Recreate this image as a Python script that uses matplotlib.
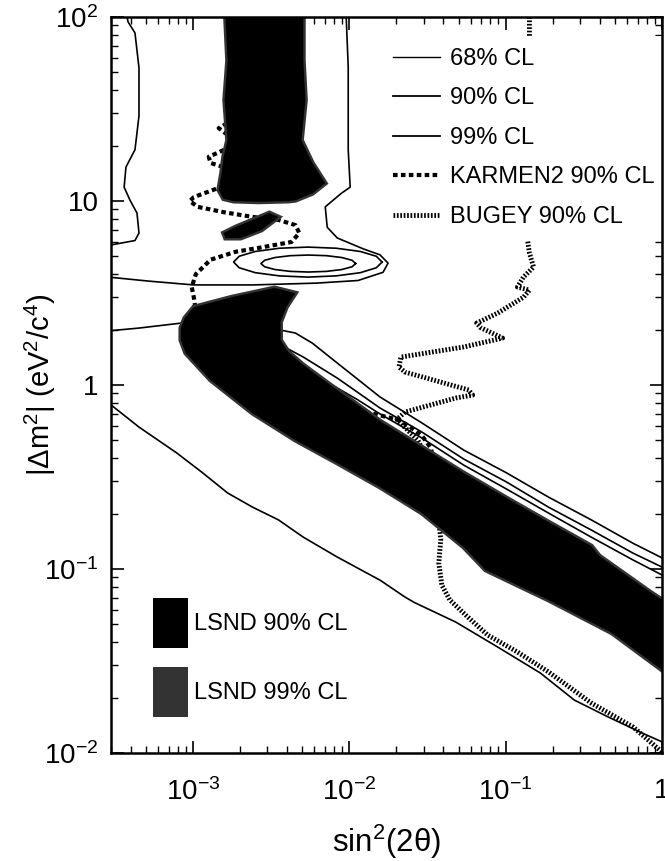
import numpy as np
import matplotlib.pyplot as plt
from matplotlib.lines import Line2D
from matplotlib.patches import Patch
from matplotlib.ticker import LogLocator, NullFormatter

plt.rcParams['font.family'] = ['Liberation Sans', 'DejaVu Sans']
plt.rcParams['mathtext.fontset'] = 'custom'
plt.rcParams['mathtext.rm'] = 'Liberation Sans'
plt.rcParams['mathtext.it'] = 'Liberation Sans:italic'

# ---- LSND allowed regions: (sin^2 2theta, |dm^2|) ----
col_x = [1.62e-3, 1.67e-3, 1.60e-3, 1.67e-3, 1.575e-3, 1.53e-3, 1.465e-3, 1.575e-3, 1.82e-3,
         2.63e-3, 4.08e-3, 4.53e-3, 5.81e-3, 7.03e-3, 5.81e-3, 4.95e-3, 5.25e-3, 5.09e-3, 5.09e-3]
col_y = [100, 58, 35.4, 21.4, 17.4, 14.2, 11.5, 10.3, 10.0,
         9.9, 10.0, 10.1, 11.0, 12.5, 16.1, 21.4, 35.4, 58, 100]

isl_x = [1.575e-3, 1.88e-3, 3.09e-3, 3.53e-3, 2.75e-3, 2.02e-3, 1.62e-3]
isl_y = [6.7, 7.22, 8.61, 8.18, 6.96, 6.29, 6.29]

band_x = [8.89e-4, 1.015e-3, 1.77e-3, 3.33e-3, 4.53e-3, 3.97e-3, 3.64e-3, 3.64e-3, 4.08e-3, 5.09e-3,
          8.39e-3, 1.575e-2, 2.92e-2, 5.40e-2, 0.1015, 0.188, 0.353, 0.397, 0.839, 1.0,
          1.0, 0.48, 0.188, 7.46e-2, 5.40e-2, 2.92e-2, 1.575e-2, 8.39e-3, 4.53e-3, 2.41e-3,
          1.30e-3, 9.02e-4, 8.39e-4, 8.39e-4]
band_y = [2.31, 2.65, 3.0, 3.37, 3.16, 2.66, 2.2, 1.756, 1.511, 1.284,
          0.939, 0.637, 0.460, 0.3325, 0.243, 0.180, 0.1334, 0.1177, 0.075, 0.0679,
          0.0283, 0.0449, 0.0679, 0.0988, 0.1317, 0.2015, 0.279, 0.377, 0.502, 0.704,
          1.065, 1.492, 1.756, 2.04]

# ---- likelihood contours (68 / 90 / 99 % CL) ----
ell68_x = [1.100e-2, 1.043e-2, 8.97e-3, 7.16e-3, 5.48e-3, 4.20e-3, 3.35e-3, 2.88e-3, 2.73e-3,
           2.88e-3, 3.35e-3, 4.20e-3, 5.48e-3, 7.16e-3, 8.97e-3, 1.043e-2, 1.100e-2]
ell68_y = [4.575, 4.764, 4.932, 5.047, 5.088, 5.047, 4.932, 4.764, 4.575,
           4.393, 4.244, 4.147, 4.113, 4.147, 4.244, 4.393, 4.575]
ell90_x = [1.623e-2, 1.492e-2, 1.179e-2, 8.26e-3, 5.44e-3, 3.58e-3, 2.51e-3, 1.98e-3, 1.824e-3,
           1.98e-3, 2.51e-3, 3.58e-3, 5.44e-3, 8.26e-3, 1.179e-2, 1.492e-2, 1.623e-2]
ell90_y = [4.66, 5.01, 5.32, 5.54, 5.62, 5.54, 5.32, 5.01, 4.66,
           4.34, 4.08, 3.92, 3.86, 3.92, 4.08, 4.34, 4.66]
outer_x = [9.57e-3, 9.86e-3, 9.86e-3, 1.015e-2, 8.89e-3, 7.03e-3, 7.24e-3, 8.39e-3, 1.228e-2,
           1.575e-2, 1.772e-2, 1.647e-2, 1.14e-2, 6.16e-3, 2.41e-3, 1.015e-3, 5.25e-4, 2.9e-4]
outer_y = [100, 53.5, 18.9, 11.9, 11.0, 9.3, 7.2, 6.3, 5.5,
           5.1, 4.6, 4.1, 3.7, 3.58, 3.5, 3.5, 3.67, 3.86]
left_x = [3.8e-4, 3.86e-4, 4.27e-4, 4.53e-4, 4.53e-4, 4.27e-4, 3.74e-4, 3.64e-4, 3.97e-4,
          4.4e-4, 4.53e-4, 4.27e-4, 3.09e-4, 2.9e-4]
left_y = [100, 94, 82, 53, 29, 19, 15.3, 11.9, 10.1, 8.6, 6.7, 6.1, 5.8, 5.75]
diag99_x = [3.53e-3, 4.53e-3, 5.81e-3, 8.39e-3, 1.575e-2, 2.92e-2, 5.40e-2, 0.1015, 0.188, 0.353, 0.653, 1.0]
diag99_y = [2.0, 1.917, 1.69, 1.317, 0.861, 0.622, 0.443, 0.333, 0.246, 0.185, 0.138, 0.115]
diag90_x = [3.97e-3, 5.09e-3, 8.39e-3, 1.575e-2, 2.92e-2, 5.40e-2, 0.1015, 0.188, 0.353, 0.653, 1.0]
diag90_y = [1.589, 1.419, 1.091, 0.75, 0.555, 0.396, 0.297, 0.217, 0.163, 0.122, 0.1025]
diag68_x = [4.80e-3, 6.53e-3, 1.14e-2, 1.575e-2, 2.92e-2, 5.40e-2, 0.1015, 0.188, 0.353, 0.653, 1.0]
diag68_y = [1.237, 1.091, 0.829, 0.696, 0.515, 0.367, 0.272, 0.2015, 0.149, 0.112, 0.0928]
low_x = [2.9e-4, 4.53e-4, 7.91e-4, 1.158e-3, 1.67e-3, 2.41e-3, 3.53e-3, 5.09e-3, 8.39e-3, 1.30e-2,
         1.575e-2, 2.27e-2, 2.59e-2, 4.80e-2, 8.89e-2, 0.167, 0.275, 0.453, 0.746, 1.0]
low_y = [0.798, 0.591, 0.427, 0.333, 0.259, 0.217, 0.185, 0.149, 0.1162, 0.095,
         0.087, 0.0705, 0.066, 0.0515, 0.0377, 0.0272, 0.0194, 0.0157, 0.01285, 0.0115]
mid_x = [2.9e-4, 4.53e-4, 8.39e-4, 9.5e-4]
mid_y = [1.97, 2.04, 2.17, 2.2]

# ---- exclusion curves ----
karmen_x = [1.96e-3, 1.96e-3, 1.72e-3, 1.465e-3, 1.67e-3, 1.72e-3, 1.465e-3, 1.265e-3, 1.30e-3,
            1.575e-3, 1.646e-3, 1.465e-3, 1.015e-3, 9.57e-4, 1.076e-3, 1.575e-3, 2.41e-3, 3.53e-3,
            4.53e-3, 4.80e-3, 4.27e-3, 2.75e-3, 1.88e-3, 1.30e-3, 1.045e-3, 9.85e-4, 1.015e-3,
            1.045e-3, 2.27e-3, 5.48e-3, 1.14e-2, 1.647e-2, 2.02e-2, 2.41e-2, 2.92e-2, 3.33e-2,
            3.48e-2, 4.95e-2, 0.119, 0.287, 1.0]
karmen_y = [100, 31.2, 26.9, 24.9, 22.9, 19.6, 18.4, 17.4, 16.1,
            15.3, 13.5, 11.8, 10.5, 10.0, 9.3, 8.7, 8.2, 7.9,
            7.4, 6.7, 5.99, 5.6, 5.3, 4.8, 4.0, 3.4, 3.0,
            2.55, 1.65, 1.0, 0.731, 0.678, 0.65, 0.60, 0.53, 0.4545,
            0.3815, 0.269, 0.1438, 0.0871, 0.0496]
bugey_x = [0.142, 0.142, 0.138, 0.142, 0.151, 0.130, 0.119, 0.142, 0.130, 8.89e-2, 6.53e-2,
           6.93e-2, 9.57e-2, 5.40e-2, 2.14e-2, 2.08e-2, 2.27e-2, 5.81e-2, 6.16e-2, 4.80e-2,
           2.27e-2, 2.02e-2, 2.75e-2, 3.43e-2, 3.69e-2, 3.85e-2, 3.74e-2, 3.91e-2, 4.40e-2,
           5.56e-2, 7.67e-2, 0.119, 0.188, 0.353, 0.653, 0.889, 1.0]
bugey_y = [100, 35.4, 6.14, 5.22, 4.38, 3.86, 3.41, 3.28, 3.0, 2.46, 2.17,
           2.05, 1.80, 1.61, 1.419, 1.252, 1.177, 0.94, 0.882, 0.85,
           0.713, 0.65, 0.50, 0.345, 0.209, 0.144, 0.1078, 0.0818, 0.0679,
           0.0562, 0.0438, 0.0354, 0.0276, 0.0187, 0.01385, 0.01105, 0.0101]

xticks = [1e-3, 1e-2, 1e-1, 1]
xticklabels = ['$\\mathregular{10^{-3}}$', '$\\mathregular{10^{-2}}$', '$\\mathregular{10^{-1}}$', '1']
yticks = [1e-2, 1e-1, 1, 10, 100]
yticklabels = ['$\\mathregular{10^{-2}}$', '$\\mathregular{10^{-1}}$', '1', '10', '$\\mathregular{10^{2}}$']

fig = plt.figure(figsize=(6.65, 8.61), dpi=100)
ax = fig.add_axes([0.1669, 0.1254, 0.8286, 0.8548])

gray99 = '#333333'
for px, py in [(col_x, col_y), (isl_x, isl_y), (band_x, band_y)]:
    ax.fill(px, py, facecolor=gray99, edgecolor=gray99, lw=3.5, zorder=2)
    ax.fill(px, py, facecolor='black', edgecolor='none', zorder=3)

lw = 1.2
ax.plot(ell68_x, ell68_y, 'k-', lw=lw, zorder=1.5)
ax.plot(diag68_x, diag68_y, 'k-', lw=lw, zorder=1.5)
ax.plot(ell90_x, ell90_y, 'k-', lw=lw, zorder=1.5)
ax.plot(diag90_x, diag90_y, 'k-', lw=lw, zorder=1.5)
for cx, cy in [(outer_x, outer_y), (left_x, left_y), (diag99_x, diag99_y), (low_x, low_y), (mid_x, mid_y)]:
    ax.plot(cx, cy, 'k-', lw=lw, zorder=1.5)

karmen_ls = (0, (1.1, 0.8))
bugey_ls = (0, (0.35, 0.35))
ax.plot(karmen_x, karmen_y, color='k', lw=3.0, ls=karmen_ls, zorder=1.2)
ax.plot(bugey_x, bugey_y, color='k', lw=3.5, ls=bugey_ls, zorder=1.2)

ax.set_xscale('log')
ax.set_yscale('log')
ax.set_xlim(3e-4, 1)
ax.set_ylim(1e-2, 1e2)
ax.set_xticks(xticks, xticklabels)
ax.set_yticks(yticks, yticklabels)
ax.xaxis.set_minor_locator(LogLocator(subs=np.arange(2, 10)))
ax.yaxis.set_minor_locator(LogLocator(subs=np.arange(2, 10)))
ax.xaxis.set_minor_formatter(NullFormatter())
ax.yaxis.set_minor_formatter(NullFormatter())
ax.tick_params(which='both', direction='in', top=True, right=True, labelsize=20)
ax.tick_params(which='major', length=9, width=1.2)
ax.tick_params(which='minor', length=5, width=1.0)
ax.tick_params(axis='x', pad=18)
ax.tick_params(axis='y', pad=9)
for s in ax.spines.values():
    s.set_linewidth(1.8)

ax.set_xlabel('sin$\\mathregular{^2}$(2θ)', fontsize=22.5, labelpad=12)
ax.set_ylabel('|Δm$\\mathregular{^2}$| (eV$\\mathregular{^2}$/c$\\mathregular{^4}$)', fontsize=21, labelpad=-10)

h1 = [Line2D([], [], color='k', lw=1.0), Line2D([], [], color='k', lw=1.3), Line2D([], [], color='k', lw=1.3),
      Line2D([], [], color='k', lw=3.0, ls=karmen_ls), Line2D([], [], color='k', lw=3.5, ls=bugey_ls)]
l1 = ['68% CL', '90% CL', '99% CL', 'KARMEN2 90% CL', 'BUGEY 90% CL']
leg1 = ax.legend(h1, l1, loc='upper left', bbox_to_anchor=(0.49, 0.974), fontsize=17,
                 frameon=True, facecolor='white', edgecolor='none', framealpha=1, fancybox=False,
                 handlelength=2.0, handletextpad=0.42, labelspacing=0.74, borderpad=0.5, borderaxespad=0)
leg1.set_zorder(2.4)
ax.add_artist(leg1)

h2 = [Patch(facecolor='black'), Patch(facecolor=gray99)]
l2 = ['LSND 90% CL', 'LSND 99% CL']
ax.legend(h2, l2, loc='upper left', bbox_to_anchor=(0.076, 0.2106), fontsize=17, frameon=False,
          handlelength=1.48, handleheight=2.88, handletextpad=0.25, labelspacing=0.8,
          borderpad=0, borderaxespad=0)

fig.savefig('out.png', dpi=100)
